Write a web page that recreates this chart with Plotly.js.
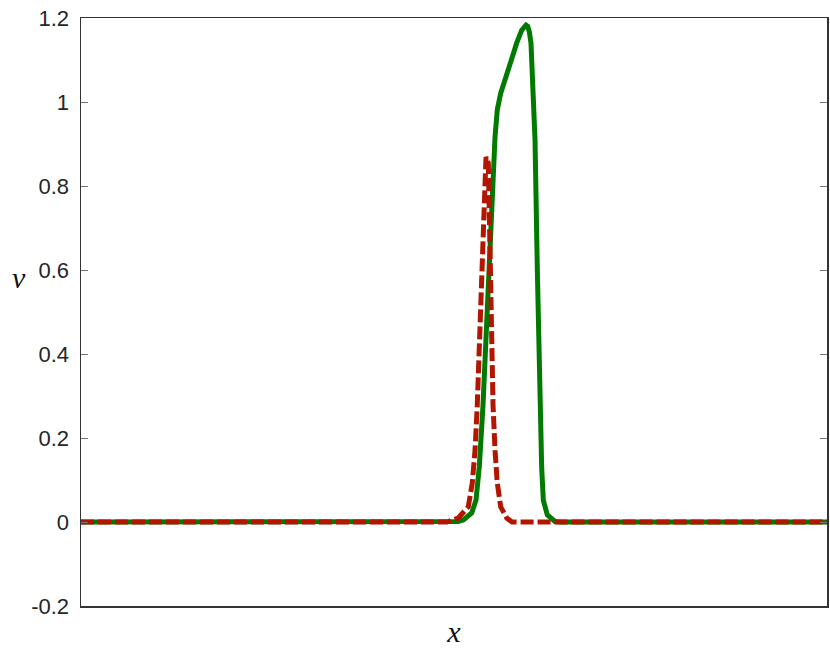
<!DOCTYPE html>
<html>
<head>
<meta charset="utf-8">
<script src="https://cdn.plot.ly/plotly-3.0.1.min.js"></script>
<style>
  html, body { margin: 0; padding: 0; background: #fff; }
  #chart { width: 830px; height: 648px; }
</style>
</head>
<body>
<div id="chart"></div>
<script>
// solid green curve
green_x = [0, 0.492, 0.5054, 0.5125, 0.5237, 0.5295, 0.5339, 0.5389, 0.5426, 0.5469, 0.5509, 0.555, 0.558, 0.5626, 0.5697, 0.576, 0.584, 0.5907, 0.5945, 0.5965, 0.5988, 0.6009, 0.6032, 0.6055, 0.6072, 0.6086, 0.6117, 0.6153, 0.6175, 0.6197, 0.6251, 0.6354, 0.6421, 1]
green_v = [0, 0, 0.0012, 0.0048, 0.0214, 0.0524, 0.1317, 0.2786, 0.4333, 0.6024, 0.761, 0.917, 0.981, 1.021, 1.06, 1.1, 1.14, 1.171, 1.181, 1.183, 1.18, 1.168, 1.14, 1.06, 0.981, 0.91, 0.6, 0.267, 0.131, 0.052, 0.017, 0.0012, 0, 0]

// dashed red curve
red_x = [0, 0.4906, 0.5058, 0.5192, 0.5245, 0.5282, 0.5312, 0.5342, 0.5371, 0.5402, 0.5429, 0.546, 0.5483, 0.5523, 0.555, 0.558, 0.5626, 0.5707, 0.5777, 1]
red_v = [0, 0, 0.0095, 0.0364, 0.0929, 0.1714, 0.2786, 0.439, 0.6, 0.755, 0.869, 0.855, 0.6, 0.279, 0.171, 0.093, 0.036, 0.0095, 0, 0]

y_ticks = [-0.2, 0, 0.2, 0.4, 0.6, 0.8, 1, 1.2]
y_labels = ['-0.2', '0', '0.2', '0.4', '0.6', '0.8', '1', '1.2']

var trace1 = {
  x: green_x,
  y: green_v,
  type: 'scatter',
  mode: 'lines',
  line: {color: 'rgb(0,122,0)', width: 5}
}

var trace2 = {
  x: red_x,
  y: red_v,
  type: 'scatter',
  mode: 'lines',
  line: {color: 'rgb(178,22,0)', width: 5, dash: '13px,4px'}
}

var layout = {
  width: 830,
  height: 648,
  margin: {l: 81, r: 3, t: 18, b: 42},
  paper_bgcolor: '#fff',
  plot_bgcolor: '#fff',
  showlegend: false,
  font: {family: 'Liberation Sans, Arial, sans-serif', size: 22, color: '#262626'},
  xaxis: {
    range: [0, 1],
    showgrid: false,
    zeroline: false,
    showticklabels: false,
    ticks: '',
    showline: true,
    linecolor: '#333',
    linewidth: 1.5,
    mirror: true,
    title: {
      text: 'x',
      font: {family: 'Liberation Serif, Times New Roman, serif', size: 30, style: 'italic', color: '#111'},
      standoff: 14
    }
  },
  yaxis: {
    range: [-0.2, 1.2],
    showgrid: false,
    zeroline: false,
    tickmode: 'array',
    tickvals: y_ticks,
    ticktext: y_labels,
    ticks: 'inside',
    ticklen: 7,
    tickwidth: 1,
    tickcolor: '#777',
    ticklabelstandoff: 6,
    showline: true,
    linecolor: '#333',
    linewidth: 1.5,
    mirror: 'ticks'
  },
  annotations: [{
    text: 'v',
    xref: 'paper',
    yref: 'paper',
    x: -0.095,
    y: 0.558,
    showarrow: false,
    font: {family: 'Liberation Serif, Times New Roman, serif', size: 30, style: 'italic', color: '#111'}
  }]
}

var data = [trace1, trace2]

Plotly.newPlot('chart', data, layout, {displayModeBar: false, staticPlot: true})
</script>
</body>
</html>
